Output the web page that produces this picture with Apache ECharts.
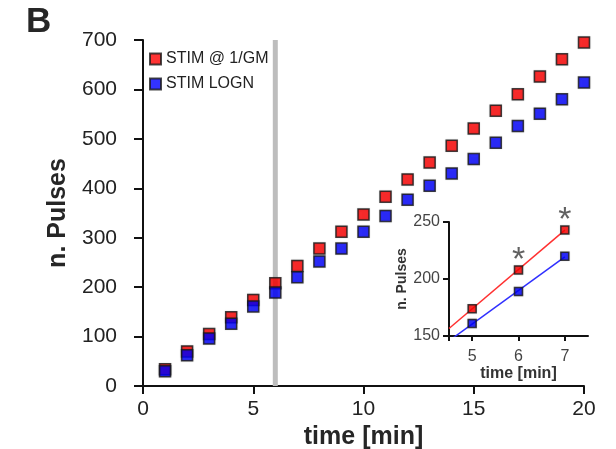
<!DOCTYPE html>
<html>
<head>
<meta charset="utf-8">
<script src="https://cdn.jsdelivr.net/npm/echarts@6/dist/echarts.min.js"></script>
<style>
  html, body { margin: 0; padding: 0; background: #fff; }
  #chart { width: 616px; height: 449px; }
</style>
</head>
<body>
<div id="chart"></div>
<script>
// Cumulative pulse counts per minute for the two stimulation protocols
const timeMin = [1, 2, 3, 4, 5, 6, 7, 8, 9, 10, 11, 12, 13, 14, 15, 16, 17, 18, 19, 20];
const pulsesGM = [34, 70, 105, 139, 174, 208, 243, 278, 312, 347, 383, 418, 452, 486, 521, 557, 590, 626, 661, 695];
const pulsesLogn = [30, 62, 96, 126, 161, 189, 220, 252, 278, 312, 344, 377, 405, 430, 459, 492, 526, 551, 580, 614];

// Detail window around the switch time
const insetTime = [5, 6, 7];
const insetGM = [174, 208, 243];
const insetLogn = [161, 189, 220];
const insetSignificant = [false, true, true];
const insetTicks = [5, 6, 7];

const stimOnset = 6;
const seriesNames = ['STIM @ 1/GM', 'STIM LOGN'];

const RED = '#ff0000';
const BLUE = '#0000ff';
const FONT = 'Liberation Sans, Arial, sans-serif';

const mainY = { min: 0, max: 700 };
const insetX = { min: 4.5, max: 7.5 };

// least-squares line through the inset points, drawn across the inset x range
function fitLine(xs, ys, x0, x1) {
  const n = xs.length;
  const mx = xs.reduce((a, b) => a + b, 0) / n;
  const my = ys.reduce((a, b) => a + b, 0) / n;
  let sxy = 0, sxx = 0;
  for (let i = 0; i < n; i++) {
    sxy += (xs[i] - mx) * (ys[i] - my);
    sxx += (xs[i] - mx) * (xs[i] - mx);
  }
  const k = sxy / sxx;
  return [[x0, my + k * (x0 - mx)], [x1, my + k * (x1 - mx)]];
}

const lastInset = insetTime[insetTime.length - 1];

function markerStyle(color) {
  return {
    color: color,
    borderColor: '#1a1a1a',
    borderWidth: 1.5,
    shadowColor: 'rgba(0,0,0,0.25)',
    shadowBlur: 1.5
  };
}

const chart = echarts.init(document.getElementById('chart'), null, { renderer: 'canvas' });

chart.setOption({
  animation: false,
  backgroundColor: '#fff',
  textStyle: { fontFamily: FONT },
  title: {
    text: 'B',
    left: 21,
    top: 0,
    textStyle: { fontFamily: FONT, fontSize: 35, fontWeight: 'bold', color: '#262626' }
  },
  legend: {
    data: seriesNames,
    orient: 'vertical',
    left: 144,
    top: 46,
    itemWidth: 11,
    itemHeight: 11,
    itemGap: 9,
    icon: 'rect',
    textStyle: { fontFamily: FONT, fontSize: 16, color: '#222' }
  },
  grid: [
    { left: 143, right: 32, top: 40, bottom: 63, outerBoundsMode: 'none', containLabel: false },
    { left: 449, right: 28, top: 222, bottom: 113, outerBoundsMode: 'none', containLabel: false }
  ],
  xAxis: [
    {
      gridIndex: 0,
      type: 'value',
      min: 0, max: 20, interval: 5,
      name: 'time [min]',
      nameLocation: 'middle',
      nameGap: 27,
      nameTextStyle: { fontFamily: FONT, fontSize: 25, fontWeight: 'bold', color: '#262626' },
      axisLine: { lineStyle: { color: '#111', width: 2 } },
      axisTick: { length: 8, lineStyle: { color: '#111', width: 2 } },
      axisLabel: { fontFamily: FONT, fontSize: 21, color: '#222', margin: 13 },
      splitLine: { show: false }
    },
    {
      gridIndex: 1,
      type: 'value',
      min: insetX.min, max: insetX.max,
      name: 'time [min]',
      nameLocation: 'middle',
      nameGap: 28,
      nameTextStyle: { fontFamily: FONT, fontSize: 16, fontWeight: 'bold', color: '#333' },
      axisLine: { lineStyle: { color: '#111', width: 2 } },
      axisTick: { length: 5, customValues: [insetX.min].concat(insetTicks), lineStyle: { color: '#111', width: 2 } },
      axisLabel: { fontFamily: FONT, fontSize: 16, color: '#444', margin: 13, customValues: insetTicks },
      splitLine: { show: false }
    }
  ],
  yAxis: [
    {
      gridIndex: 0,
      type: 'value',
      min: mainY.min, max: mainY.max, interval: 100,
      name: 'n. Pulses',
      nameLocation: 'middle',
      nameGap: 66,
      nameTextStyle: { fontFamily: FONT, fontSize: 25, fontWeight: 'bold', color: '#262626' },
      axisLine: { show: true, lineStyle: { color: '#111', width: 2 } },
      axisTick: { show: true, length: 9, lineStyle: { color: '#111', width: 2 } },
      axisLabel: { fontFamily: FONT, fontSize: 21, color: '#222', margin: 26 },
      splitLine: { show: false }
    },
    {
      gridIndex: 1,
      type: 'value',
      min: 150, max: 250, interval: 50,
      name: 'n. Pulses',
      nameLocation: 'middle',
      nameGap: 33,
      nameTextStyle: { fontFamily: FONT, fontSize: 14, fontWeight: 'bold', color: '#333' },
      axisLine: { show: true, lineStyle: { color: '#111', width: 2 } },
      axisTick: { show: true, length: 6, lineStyle: { color: '#111', width: 2 } },
      axisLabel: { fontFamily: FONT, fontSize: 16, color: '#444', margin: 9 },
      splitLine: { show: false }
    }
  ],
  series: [
    {
      // vertical marker at the protocol switch
      type: 'line',
      xAxisIndex: 0, yAxisIndex: 0,
      data: [[stimOnset, mainY.min], [stimOnset, mainY.max]],
      symbol: 'none',
      silent: true,
      z: 1,
      lineStyle: { color: '#bdbdbd', width: 5 }
    },
    {
      name: seriesNames[0],
      type: 'scatter',
      xAxisIndex: 0, yAxisIndex: 0,
      symbol: 'rect',
      symbolSize: 11,
      z: 3,
      itemStyle: markerStyle(RED),
      data: timeMin.map((t, i) => [t, pulsesGM[i]])
    },
    {
      name: seriesNames[1],
      type: 'scatter',
      xAxisIndex: 0, yAxisIndex: 0,
      symbol: 'rect',
      symbolSize: 11,
      z: 4,
      itemStyle: markerStyle(BLUE),
      data: timeMin.map((t, i) => [t, pulsesLogn[i]])
    },
    {
      type: 'line',
      xAxisIndex: 1, yAxisIndex: 1,
      data: fitLine(insetTime, insetGM, insetX.min, lastInset),
      symbol: 'none',
      clip: true,
      z: 2,
      lineStyle: { color: '#ff3030', width: 1.5 }
    },
    {
      type: 'line',
      xAxisIndex: 1, yAxisIndex: 1,
      data: fitLine(insetTime, insetLogn, insetX.min, lastInset),
      symbol: 'none',
      clip: true,
      z: 2,
      lineStyle: { color: '#3030ff', width: 1.5 }
    },
    {
      name: seriesNames[0],
      type: 'scatter',
      xAxisIndex: 1, yAxisIndex: 1,
      symbol: 'rect',
      symbolSize: 8,
      z: 3,
      itemStyle: markerStyle(RED),
      data: insetTime.map((t, i) => ({
        value: [t, insetGM[i]],
        label: {
          show: insetSignificant[i],
          formatter: '*',
          position: 'top',
          distance: -12,
          fontFamily: FONT,
          fontSize: 34,
          color: '#3a3a3a'
        }
      }))
    },
    {
      name: seriesNames[1],
      type: 'scatter',
      xAxisIndex: 1, yAxisIndex: 1,
      symbol: 'rect',
      symbolSize: 8,
      z: 3,
      itemStyle: markerStyle(BLUE),
      data: insetTime.map((t, i) => [t, insetLogn[i]])
    }
  ]
});
</script>
</body>
</html>
